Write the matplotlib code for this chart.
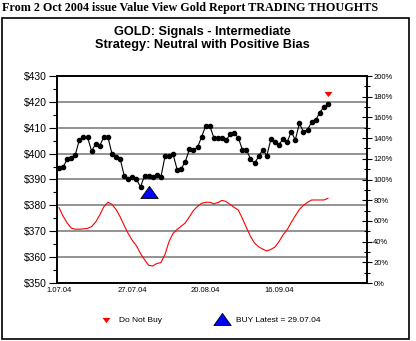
import matplotlib
matplotlib.use("Agg")
import matplotlib.pyplot as plt
from matplotlib.lines import Line2D
from matplotlib.patches import Rectangle
from matplotlib.ticker import MultipleLocator

# gold price (left axis, $) - one value per trading day
price = [394.6, 394.7, 398.0, 398.2, 399.6, 405.4, 406.5, 406.3, 401.0, 403.8,
         403.1, 406.4, 406.4, 399.9, 398.7, 398.0, 391.5, 390.1, 390.9, 390.1,
         387.1, 391.5, 391.5, 391.1, 391.9, 390.9, 398.9, 398.9, 399.7, 393.8,
         394.2, 396.9, 401.7, 401.5, 402.4, 406.5, 410.7, 410.7, 406.2, 406.0,
         406.0, 405.1, 407.5, 407.9, 406.2, 401.5, 401.5, 397.9, 396.3, 398.9,
         401.5, 399.2, 405.5, 404.6, 403.5, 405.7, 404.4, 408.5, 405.3, 411.7,
         408.4, 409.3, 412.1, 413.0, 415.8, 418.1, 419.0]

# signal indicator (right axis, %)
signal = [72.8, 64.5, 58.0, 53.0, 52.0, 52.0, 52.3, 52.8, 54.5, 59.0,
          65.7, 73.7, 78.0, 76.0, 71.0, 64.0, 55.5, 47.7, 41.0, 36.0,
          28.5, 22.5, 17.0, 16.5, 18.8, 19.7, 27.5, 40.0, 48.0, 51.7,
          55.0, 58.0, 64.0, 70.0, 74.0, 77.0, 78.0, 78.0, 76.6, 77.7,
          79.8, 78.8, 76.0, 73.0, 70.5, 62.5, 53.5, 45.0, 38.5, 35.0,
          32.7, 30.9, 32.5, 34.7, 40.0, 46.5, 51.5, 58.5, 65.0, 71.0,
          75.0, 78.0, 80.2, 80.2, 80.2, 80.2, 81.8]

date_ticks = [0, 18, 36, 54]
date_labels = ["1.07.04", "27.07.04", "20.08.04", "16.09.04"]

buy_idx, buy_price = 22, 385.2
nobuy_idx, nobuy_price = 66, 423.0

days = list(range(len(price)))

up_tri = [(-1, -0.7), (1, -0.7), (0, 0.7), (-1, -0.7)]
down_tri = [(-1, 0.65), (1, 0.65), (0, -0.65), (-1, 0.65)]

plt.rcParams['font.family'] = ['Liberation Sans', 'DejaVu Sans']

fig = plt.figure(figsize=(4.16, 3.41), dpi=100)
ax = fig.add_axes([57 / 416, 58 / 341, 310 / 416, 207 / 341])
ax2 = ax.twinx()

# price axis
ax.set_xlim(-0.5, 75.6)
ax.set_ylim(350, 430)
ax.yaxis.set_major_locator(MultipleLocator(10))
ax.yaxis.set_minor_locator(MultipleLocator(5))
ax.yaxis.set_major_formatter(lambda v, p: f"${v:.0f}")
ax.grid(axis='y', color='#808080', linewidth=1.2)
ax.tick_params(axis='y', which='major', length=6, width=0.8, labelsize=7.5, pad=1)
ax.tick_params(axis='y', which='minor', length=3, width=0.8)
ax.set_xticks(date_ticks)
ax.set_xticklabels(date_labels)
ax.tick_params(axis='x', length=0, labelsize=5.5, pad=3)
for s in ax.spines.values():
    s.set_linewidth(1.2)

ax.plot(days, price, color='black', linewidth=0.8, marker='o', markersize=3.0, zorder=3)
ax.plot([buy_idx], [buy_price], marker=up_tri, markersize=12.5, color='#0000ff',
        markeredgecolor='black', markeredgewidth=0.6, linestyle='none', zorder=4)
ax.plot([nobuy_idx], [nobuy_price], marker=down_tri, markersize=5.8, color='#ff0000',
        markeredgewidth=0, linestyle='none', zorder=4)

# signal axis
ax2.set_ylim(0, 200)
ax2.yaxis.set_major_locator(MultipleLocator(20))
ax2.yaxis.set_minor_locator(MultipleLocator(10))
ax2.yaxis.set_major_formatter(lambda v, p: f"{v:.0f}%")
ax2.tick_params(axis='y', which='major', direction='inout', length=7, width=0.8, labelsize=5.5, pad=1)
ax2.tick_params(axis='y', which='minor', direction='inout', length=5, width=0.8)
ax2.plot(days, signal, color='#ff0000', linewidth=0.8)
for s in ax2.spines.values():
    s.set_linewidth(1.2)

# header, titles and frame
fig.text(2 / 416, 1 - 8 / 341, "From 2 Oct 2004 issue Value View Gold Report TRADING THOUGHTS",
         family='Liberation Serif', fontweight='bold', fontsize=8.7, va='center', ha='left')
fig.text(202 / 416, 1 - 32 / 341, "GOLD: Signals - Intermediate",
         fontsize=9.2, fontweight='bold', ha='center', va='center')
fig.text(202 / 416, 1 - 45 / 341, "Strategy: Neutral with Positive Bias",
         fontsize=9.2, fontweight='bold', ha='center', va='center')
fig.add_artist(Rectangle((2 / 416, 2 / 341), 407 / 416, 321 / 341, fill=False,
                         edgecolor='black', linewidth=1.2, transform=fig.transFigure))

# legend
ly = 1 - 320 / 341
fig.add_artist(Line2D([106 / 416], [ly], marker=down_tri, markersize=5.8, color='#ff0000',
                      markeredgewidth=0, linestyle='none', transform=fig.transFigure))
fig.text(119 / 416, ly, "Do Not Buy", fontsize=6, va='center', ha='left')
fig.add_artist(Line2D([222 / 416], [ly + 0.004], marker=up_tri, markersize=12.5, color='#0000ff',
                      markeredgecolor='black', markeredgewidth=0.6, linestyle='none',
                      transform=fig.transFigure))
fig.text(236 / 416, ly, "BUY Latest = 29.07.04", fontsize=6, va='center', ha='left')

fig.savefig("out.png", dpi=100)
